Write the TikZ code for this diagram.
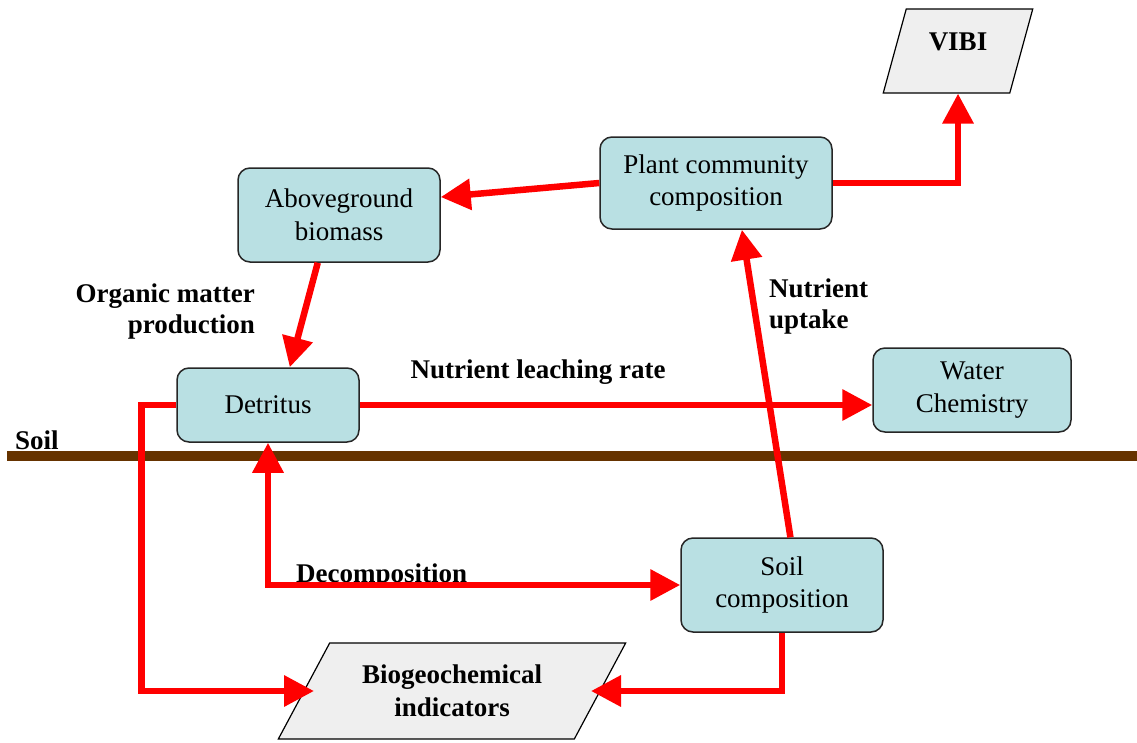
\documentclass[tikz,border=0pt]{standalone}
\usepackage{fontspec}
\setmainfont{Liberation Serif}
\usetikzlibrary{arrows.meta,shapes.geometric}
\definecolor{boxblue}{RGB}{185,224,227}
\definecolor{paragray}{RGB}{239,239,239}
\definecolor{soilbrown}{RGB}{102,51,0}
\definecolor{flowred}{RGB}{255,0,0}

\begin{document}
\begin{tikzpicture}[x=1pt,y=-1pt,
    font=\fontsize{27}{32.5}\selectfont,
    box/.style={draw=black!85, line width=1.5pt, fill=boxblue, rounded corners=12pt, align=center, inner sep=0pt},
    indicator/.style={draw=black, line width=1.2pt, fill=paragray, trapezium, trapezium stretches=true, align=center, inner sep=0pt, font=\fontsize{27}{33}\selectfont\bfseries},
    flow/.style={draw=flowred, line width=6.5pt, ->},
    >={Triangle[length=30pt,width=30pt]},
    lbl/.style={font=\fontsize{27}{31}\selectfont\bfseries, inner sep=0pt}]
    \useasboundingbox (0,0) rectangle (1137,742);

    % Soil surface
    \node[lbl, anchor=base west] (soil) at (15,449) {Soil};
    \draw[soilbrown, line width=10pt] (7,456) -- (1137,456);

    % Boxes
    \node[box, minimum width=202pt, minimum height=94pt] (abg) at (339,215) {Aboveground\\biomass};
    \node[box, minimum width=232pt, minimum height=92pt] (pcc) at (716,183) {Plant community\\composition};
    \node[box, minimum width=182pt, minimum height=74pt] (det) at (268,405) {Detritus};
    \node[box, minimum width=198pt, minimum height=84pt] (wat) at (972,390) {Water\\Chemistry};
    \node[box, minimum width=202pt, minimum height=94pt] (sco) at (782,585) {Soil\\composition};

    % Indicators
    \node[indicator, trapezium left angle=70, trapezium right angle=110, minimum width=150pt, minimum height=84pt, text depth=18pt] (vibi) at (958,51) {VIBI};
    \node[indicator, trapezium left angle=54, trapezium right angle=126, minimum width=348pt, minimum height=96pt] (bio) at (452,691) {Biogeochemical\\indicators};
    % arrow ends on the slanted sides
    \coordinate (bioleft) at (314,691);
    \coordinate (bioright) at (591,691);

    % Labels
    \node[lbl, align=right, anchor=east] (omp) at (255,312) {Organic matter\\production};
    \node[lbl, anchor=base] (nlr) at (538,378) {Nutrient leaching rate};
    \node[lbl, align=left, anchor=west] (nup) at (769,307) {Nutrient\\uptake};
    \node[lbl, anchor=base west] (dec) at (296,582) {Decomposition};

    % Flows
    \draw[flow] (pcc.west) -- (abg.10);
    \draw[flow] (abg.246) -- (det.60);
    \draw[flow] (det.east) -- (det.east -| wat.west);
    \draw[flow] (sco.80) -- (pcc.-61);
    \draw[flow] (pcc.east) -| (vibi.south);
    \draw[flow, <->] (det.south) |- (sco.west);
    \draw[flow] (det.west) -- ++(-35,0) |- (bioleft);
    \draw[flow] (sco.south) |- (bioright);
\end{tikzpicture}
\end{document}
